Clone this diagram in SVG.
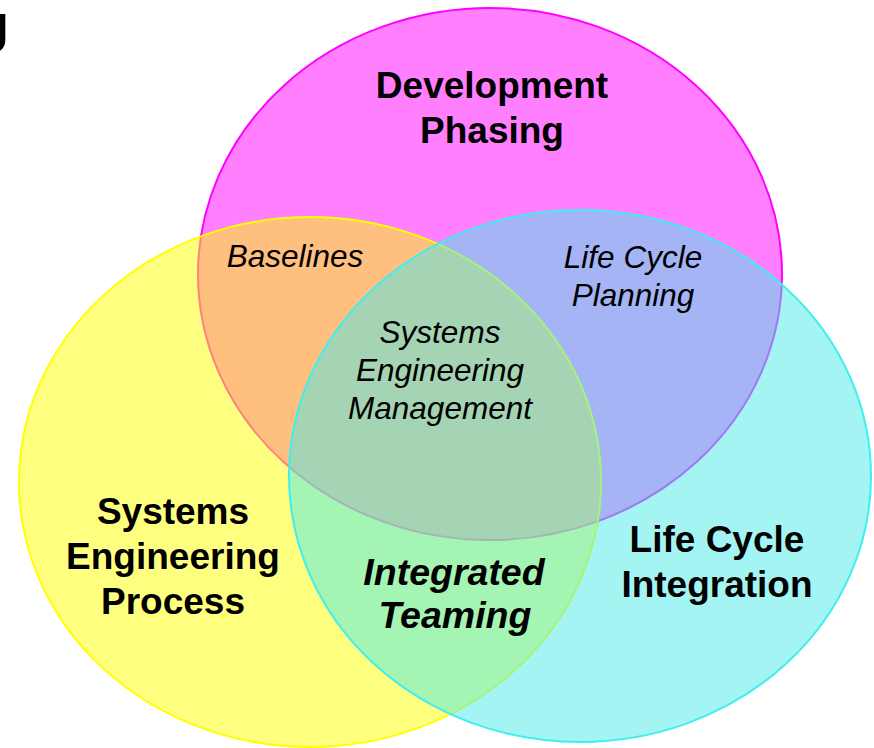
<svg xmlns="http://www.w3.org/2000/svg" width="874" height="748" viewBox="0 0 874 748">
<style>
.bold{font-family:"Liberation Sans",Arial,sans-serif;font-weight:bold;font-size:37px;fill:#000;text-anchor:middle}
.bi{font-family:"Liberation Sans",Arial,sans-serif;font-weight:bold;font-style:italic;font-size:37.5px;fill:#000;text-anchor:middle}
.it{font-family:"Liberation Sans",Arial,sans-serif;font-style:italic;font-size:31.5px;fill:#000;text-anchor:middle}
.ring{stroke-width:2}
</style>
<rect width="874" height="748" fill="#fff"/>
<text x="-22" y="52" style="font-family:'Liberation Sans',Arial,sans-serif;font-weight:bold;font-size:56px;fill:#000">J</text>
<g id="development-phasing">
<ellipse class="ring" cx="490" cy="274" rx="292" ry="266" fill="#FF00FF" fill-opacity="0.5" stroke="#FF00FF"/>
</g>
<g id="systems-engineering-process">
<ellipse class="ring" cx="310" cy="482" rx="291" ry="265" fill="#FFFF00" fill-opacity="0.5" stroke="#FFFF00"/>
</g>
<g id="life-cycle-integration">
<ellipse class="ring" cx="580" cy="476" rx="291" ry="266" fill="#49E9E9" fill-opacity="0.5" stroke="#3FEFEF"/>
</g>
<g id="labels">
<text class="bold" x="492" y="98">Development</text>
<text class="bold" x="492" y="143">Phasing</text>
<text class="bold" x="173" y="524">Systems</text>
<text class="bold" x="173" y="569">Engineering</text>
<text class="bold" x="173" y="614">Process</text>
<text class="bold" x="717" y="552">Life Cycle</text>
<text class="bold" x="717" y="597">Integration</text>
<text class="bi" x="454" y="585">Integrated</text>
<text class="bi" x="455" y="628">Teaming</text>
<text class="it" x="295" y="267">Baselines</text>
<text class="it" x="633" y="268">Life Cycle</text>
<text class="it" x="633" y="306">Planning</text>
<text class="it" x="440" y="343">Systems</text>
<text class="it" x="440" y="381">Engineering</text>
<text class="it" x="440" y="419">Management</text>
</g>
</svg>
